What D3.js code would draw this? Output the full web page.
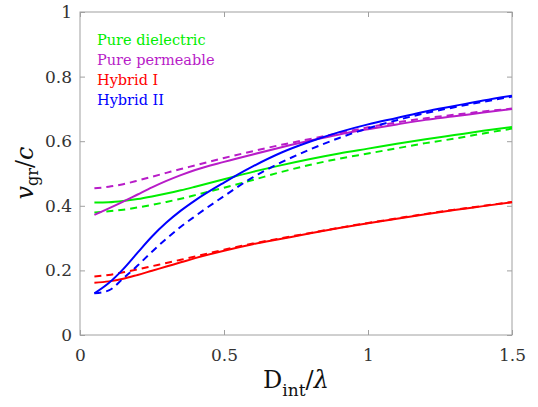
<!DOCTYPE html>
<html><head><meta charset="utf-8">
<script src="https://cdn.jsdelivr.net/npm/d3@7"></script>
<style>body{margin:0;background:#fff}svg{display:block}</style>
</head><body>
<script>
const xs = [0.05,0.1,0.15,0.2,0.25,0.3,0.35,0.4,0.5,0.6,0.7,0.8,0.9,1.0,1.1,1.2,1.3,1.4,1.5];
const dielSolid = [0.41,0.411,0.415,0.421,0.429,0.438,0.448,0.459,0.482,0.505,0.526,0.545,0.562,0.577,0.592,0.606,0.619,0.632,0.644];
const dielDash  = [0.379,0.383,0.388,0.395,0.403,0.412,0.422,0.433,0.456,0.48,0.505,0.527,0.546,0.562,0.578,0.594,0.608,0.624,0.639];
const permSolid = [0.372,0.392,0.413,0.435,0.457,0.477,0.495,0.511,0.536,0.559,0.581,0.602,0.621,0.637,0.652,0.666,0.677,0.689,0.70];
const permDash  = [0.454,0.459,0.467,0.478,0.49,0.502,0.514,0.525,0.548,0.569,0.589,0.607,0.625,0.643,0.658,0.671,0.682,0.692,0.701];
const hyb1Solid = [0.162,0.166,0.174,0.186,0.199,0.212,0.225,0.238,0.261,0.281,0.298,0.315,0.331,0.346,0.36,0.374,0.387,0.399,0.411];
const hyb1Dash  = [0.181,0.186,0.194,0.203,0.213,0.223,0.233,0.243,0.264,0.283,0.3,0.316,0.332,0.347,0.361,0.375,0.388,0.4,0.412];
const hyb2Solid = [0.129,0.161,0.204,0.255,0.305,0.348,0.385,0.417,0.472,0.522,0.565,0.599,0.628,0.652,0.672,0.692,0.709,0.726,0.741];
const hyb2Dash  = [0.129,0.138,0.175,0.215,0.258,0.298,0.335,0.368,0.43,0.488,0.535,0.575,0.61,0.64,0.665,0.687,0.705,0.722,0.738];
const legendNames = ["Pure dielectric","Pure permeable","Hybrid I","Hybrid II"];
const colors = ["#00ee00","#b81cc8","#ff0000","#0000ff"];
const xTicks = [0,0.5,1,1.5];
const yTicks = [0,0.2,0.4,0.6,0.8,1];

const W=538,H=407;
const m={l:80,r:26,t:12,b:72};
const svg=d3.select("body").append("svg").attr("width",W).attr("height",H);
const x=d3.scaleLinear().domain([0,1.5]).range([m.l,W-m.r]);
const y=d3.scaleLinear().domain([0,1]).range([H-m.b,m.t]);
const axisCol="#a0a0a0", txtCol="#333";
const font="DejaVu Serif, serif";

svg.append("rect").attr("x",x(0)).attr("y",y(1)).attr("width",x(1.5)-x(0)).attr("height",y(0)-y(1))
  .attr("fill","none").attr("stroke",axisCol).attr("stroke-width",1);

const gx=svg.append("g").attr("transform",`translate(0,${y(0)})`)
  .call(d3.axisBottom(x).tickValues(xTicks).tickSize(-5).tickPadding(14).tickFormat(d3.format("~g")));
const gxt=svg.append("g").attr("transform",`translate(0,${y(1)})`)
  .call(d3.axisTop(x).tickValues(xTicks).tickSize(-5).tickFormat(""));
const gy=svg.append("g").attr("transform",`translate(${x(0)},0)`)
  .call(d3.axisLeft(y).tickValues(yTicks).tickSize(-5).tickPadding(8).tickFormat(d3.format("~g")));
const gyr=svg.append("g").attr("transform",`translate(${x(1.5)},0)`)
  .call(d3.axisRight(y).tickValues(yTicks).tickSize(-5).tickFormat(""));
[gx,gxt,gy,gyr].forEach(g=>{
  g.attr("font-family",null).attr("font-size",null);
  g.select(".domain").remove();
  g.selectAll(".tick line").attr("stroke",axisCol);
  g.selectAll("text").attr("fill",txtCol).attr("font-family",font).attr("font-size",17);
});

const line=d3.line().x(d=>x(d[0])).y(d=>y(d[1])).curve(d3.curveMonotoneX);
const series=[
  [dielSolid,0,false],[dielDash,0,true],
  [permSolid,1,false],[permDash,1,true],
  [hyb1Solid,2,false],[hyb1Dash,2,true],
  [hyb2Solid,3,false],[hyb2Dash,3,true]
];
series.forEach(([vals,ci,dash])=>{
  svg.append("path").datum(xs.map((v,i)=>[v,vals[i]]))
    .attr("d",line).attr("fill","none").attr("stroke",colors[ci]).attr("stroke-width",2)
    .attr("stroke-dasharray",dash?"7,5":null);
});

legendNames.forEach((n,i)=>{
  svg.append("text").attr("x",97).attr("y",44.5+i*20).text(n)
    .attr("fill",colors[i]).attr("font-family",font).attr("font-size",14.5);
});

const xl=svg.append("text").attr("x",296).attr("y",388).attr("text-anchor","middle")
  .attr("font-family",font).attr("font-size",24).attr("fill","#111");
xl.append("tspan").text("D");
xl.append("tspan").text("int").attr("dy",8).attr("font-size",17);
xl.append("tspan").text("/").attr("dy",-8);
xl.append("tspan").text("λ").attr("font-style","italic");

const yl=svg.append("text").attr("transform","translate(33,173) rotate(-90)").attr("text-anchor","middle")
  .attr("font-family",font).attr("font-size",24).attr("fill","#111");
yl.append("tspan").text("v").attr("font-style","italic");
yl.append("tspan").text("gr").attr("dy",5).attr("font-size",16);
yl.append("tspan").text("/").attr("dy",-5);
yl.append("tspan").text("c").attr("font-style","italic");
</script>
</body></html>
